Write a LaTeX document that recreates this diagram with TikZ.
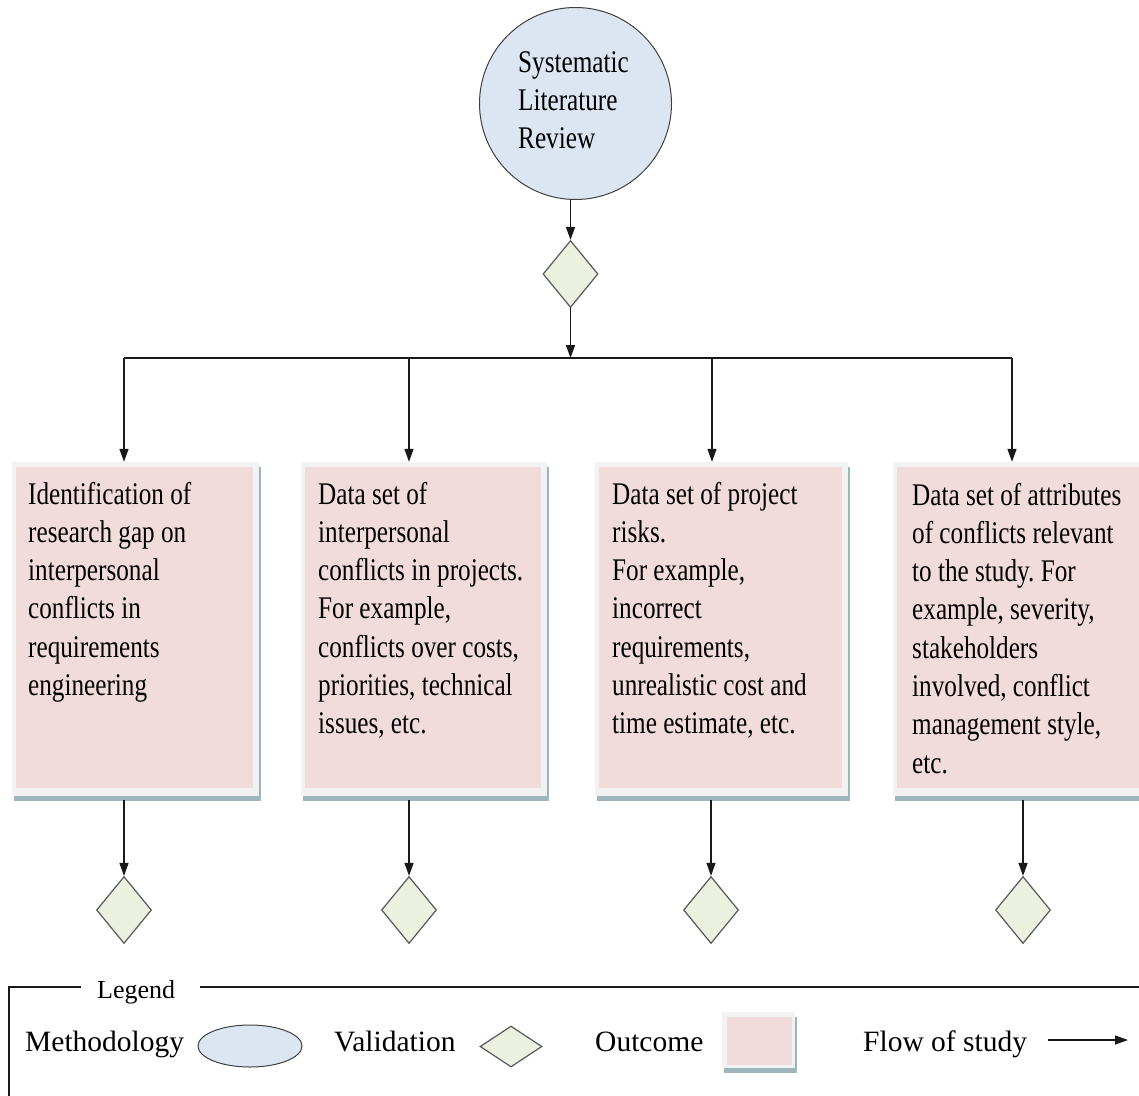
\documentclass[tikz,border=0pt]{standalone}
\usepackage{fontspec}
\setmainfont{Liberation Serif}
\newfontfamily\narrowfont[FakeStretch=0.8]{Liberation Serif}
\usetikzlibrary{arrows.meta,shapes.geometric,shadows}
\definecolor{circfill}{HTML}{DCE6F2}
\definecolor{diafill}{HTML}{EBF1DE}
\definecolor{pinkc}{HTML}{F2DCDB}
\definecolor{framec}{HTML}{F2F2F2}
\definecolor{shadowc}{HTML}{9FB5BC}
\frenchspacing
\begin{document}
\begin{tikzpicture}[x=1pt,y=-1pt,
  conn/.style={line width=1.4pt, draw=black!90},
  arr/.style={conn, -{Triangle[length=13pt,width=9pt]}},
  valid/.style={diamond, draw=black!65, line width=1.2pt, fill=diafill,
    minimum width=55pt, minimum height=67pt, inner sep=0pt},
  outbox/.style={rectangle, fill=framec, inner sep=0pt,
    general shadow={fill=shadowc, shadow xshift=2pt, shadow yshift=-5pt}},
  bigpink/.style={path picture={\fill[pinkc]
    ([xshift=4pt,yshift=-5pt]path picture bounding box.north west) rectangle
    ([xshift=-6pt,yshift=8pt]path picture bounding box.south east);}},
  smallpink/.style={path picture={\fill[pinkc]
    ([xshift=5pt,yshift=-5pt]path picture bounding box.north west) rectangle
    ([xshift=-3pt,yshift=3pt]path picture bounding box.south east);}},
  boxtext/.style={anchor=base west, inner sep=0pt, align=left,
    font=\narrowfont\fontsize{31.5}{38.3}\selectfont},
  legtext/.style={anchor=base west, inner sep=0pt,
    font=\fontsize{29.5}{34}\selectfont},
]
\useasboundingbox (0,0) rectangle (1139,1095);
\clip (0,0) rectangle (1139,1095);
\fill[white] (0,0) rectangle (1139,1095);

% top (base anchor = baseline of last line)
\node[circle, draw=black!75, line width=1pt, fill=circfill, minimum size=192pt, inner sep=0pt] (slr) at (575.5,103.5) {};
\node[boxtext] (slrt) at (518,148.6) {Systematic\\Literature\\Review};
\node[valid] (dtop) at (570.5,274) {};

% boxes
\node[outbox, bigpink, minimum width=247pt, minimum height=334pt] (b1) at (135.5,629) {};
\node[outbox, bigpink, minimum width=246pt, minimum height=334pt] (b2) at (424,629) {};
\node[outbox, bigpink, minimum width=253pt, minimum height=334pt] (b3) at (721.5,629) {};
\node[outbox, bigpink, minimum width=255pt, minimum height=334pt] (b4) at (1020.5,629) {};

\node[boxtext] (t1) at (28,695.5) {Identification of\\research gap on\\interpersonal\\conflicts in\\requirements\\engineering};
\node[boxtext] (t2) at (318,733.8) {Data set of\\interpersonal\\conflicts in projects.\\For example,\\conflicts over costs,\\priorities, technical\\issues, etc.};
\node[boxtext] (t3) at (612,733.8) {Data set of project\\risks.\\For example,\\incorrect\\requirements,\\unrealistic cost and\\time estimate, etc.};
\node[boxtext] (t4) at (912,773.1) {Data set of attributes\\of conflicts relevant\\to the study. For\\example, severity,\\stakeholders\\involved, conflict\\management style,\\etc.};

% bottom diamonds
\node[valid] (d1) at (124,910) {};
\node[valid] (d2) at (409,910) {};
\node[valid] (d3) at (711,910) {};
\node[valid] (d4) at (1023,910) {};

% branch
\coordinate (jc) at (570.5,358);
\coordinate (j1) at (124,358);
\coordinate (j2) at (409,358);
\coordinate (j3) at (712,358);
\coordinate (j4) at (1012,358);

\draw[arr] (slr.south -| dtop.north) -- (dtop.north);
\draw[arr] (dtop.south) -- (jc);
\draw[conn] (j1) -- (j4);
\draw[arr] (j1) -- (j1 |- b1.north);
\draw[arr] (j2) -- (j2 |- b2.north);
\draw[arr] (j3) -- (j3 |- b3.north);
\draw[arr] (j4) -- (j4 |- b4.north);

\draw[arr, shorten <=4pt] (d1.north |- b1.south) -- (d1.north);
\draw[arr, shorten <=4pt] (d2.north |- b2.south) -- (d2.north);
\draw[arr, shorten <=4pt] (d3.north |- b3.south) -- (d3.north);
\draw[arr, shorten <=4pt] (d4.north |- b4.south) -- (d4.north);

% legend
\coordinate (lg0) at (9,1100);
\coordinate (lg1) at (9,987);
\coordinate (lg2) at (81,987);
\coordinate (lg3) at (200,987);
\coordinate (lg4) at (1145,987);
\draw[conn, line width=1.2pt] (lg0) -- (lg1) -- (lg2);
\draw[conn, line width=1.2pt] (lg3) -- (lg4);
\node[legtext, font=\fontsize{26}{30}\selectfont] (leg) at (97,998) {Legend};

\node[legtext] (lm) at (25,1051) {Methodology};
\node[ellipse, draw=black!75, line width=1pt, fill=circfill, minimum width=104pt, minimum height=42pt, inner sep=0pt] (le) at (250,1046) {};
\node[legtext] (lv) at (334,1051) {Validation};
\node[valid, minimum width=62pt, minimum height=41pt] (ld) at (511,1046.5) {};
\node[legtext] (lo) at (595,1051) {Outcome};
\node[outbox, smallpink, minimum width=73pt, minimum height=56pt] (ls) at (758.5,1040) {};
\node[legtext] (lf) at (863,1051) {Flow of study};
\coordinate (fa) at (1048,1040);
\coordinate (fb) at (1128,1040);
\draw[arr, line width=1.2pt] (fa) -- (fb);
\end{tikzpicture}
\end{document}
